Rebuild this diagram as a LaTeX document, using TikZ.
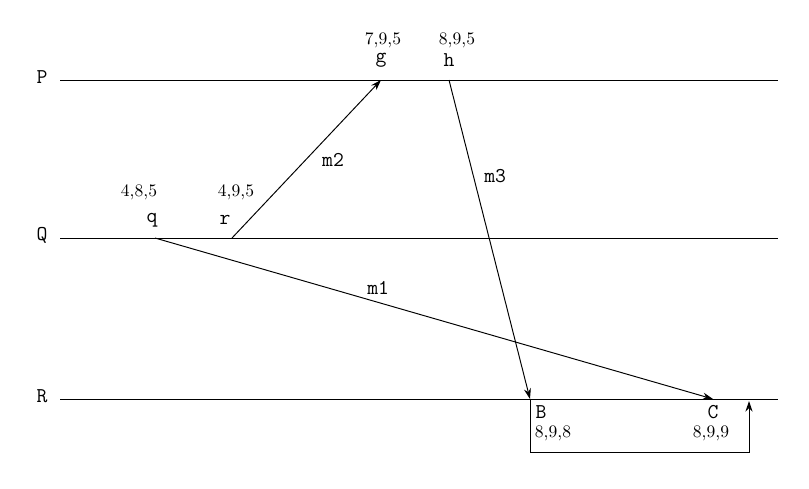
\documentclass[tikz,border=0pt]{standalone}
\usetikzlibrary{arrows.meta,calc}

\begin{document}
\begin{tikzpicture}
	[x=0.02cm,y=-0.02cm,line width=0.55pt,
	 lbl/.style={inner sep=0pt,font=\ttfamily\fontsize{12}{14}\selectfont},
	 stamp/.style={inner sep=0pt,font=\rmfamily\fontsize{10}{12}\selectfont},
	 msg/.style={-{Stealth[length=6pt,width=4pt]}}]
		\useasboundingbox (0,0) rectangle (809,488);
		% process lines
		\foreach \name/\y in {P/80, Q/238, R/399}
		{
			\node[lbl] (\name) at (42,\y-3) {\name};
			\coordinate (\name s) at (60,\y);
			\coordinate (\name e) at (778,\y);
			\draw (\name s) -- (\name e);
		}
		% events
		\coordinate (q) at (155,238);
		\coordinate (r) at (232,238);
		\coordinate (g) at (381,80);
		\coordinate (h) at (449,80);
		\coordinate (B) at (530,399);
		\coordinate (C) at (713,399);
		\node[lbl] (ql) at (152,220) {q};
		\node[lbl] (rl) at (225,220) {r};
		\node[lbl] (gl) at (381,60) {g};
		\node[lbl] (hl) at (449,60) {h};
		\node[lbl] (Bl) at (541,412) {B};
		\node[lbl] (Cl) at (713,412) {C};
		\node[stamp] (qt) at (139,192) {4,8,5};
		\node[stamp] (rt) at (236,192) {4,9,5};
		\node[stamp] (gt) at (383,40) {7,9,5};
		\node[stamp] (ht) at (457,40) {8,9,5};
		\node[stamp] (Bt) at (553,433) {8,9,8};
		\node[stamp] (Ct) at (711,433) {8,9,9};
		% messages
		\draw[msg] (q) -- node[lbl,pos=0.4,above=4pt] {m1} (C);
		\draw[msg] (r) -- (g);
		\node[lbl] (m2) at (333,160) {m2};
		\draw[msg] (h) -- node[lbl,pos=0.3,right=6pt] {m3} (B);
		% box
		\coordinate (bl) at (530,452);
		\coordinate (br) at (749,452);
		\coordinate (tr) at (749,401);
		\draw[msg] (B) -- (bl) -- (br) -- (tr);
	\end{tikzpicture}
\end{document}
